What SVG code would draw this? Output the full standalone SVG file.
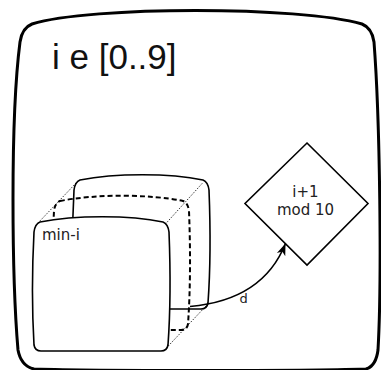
<svg xmlns="http://www.w3.org/2000/svg" width="381" height="370" viewBox="0 0 381 370">
<style>
.face{fill:#fff;stroke:#000;stroke-width:1.6}
.mid{fill:none;stroke:#000;stroke-width:2;stroke-dasharray:5,3}
.dot{fill:none;stroke:#000;stroke-width:0.8;stroke-dasharray:1.5,1.5}
.lbl{font-family:"DejaVu Sans",sans-serif;font-size:15px;fill:#222}
</style>
<defs>
<path id="face" d="M 40,222 C 75,215 130,215 163,222 Q 168,224 169,232 C 170.5,270 170.5,310 168,345 Q 167,351 161,351 L 41,351 Q 35,351 34,345 C 32,310 32,270 34,232 Q 35,224 40,222 Z"/>
<marker id="arr" markerUnits="userSpaceOnUse" markerWidth="14" markerHeight="12" viewBox="-12 -6 14 12" refX="0" refY="0" orient="auto">
<path d="M 0,0 L -12,-4.5 L -8.5,0 L -12,4.5 Z" fill="#000"/>
</marker>
</defs>
<g id="container">
<path d="M 32,24 C 90,6 300,6 362,24 Q 372,28 374,42 C 380,120 382,280 378,350 Q 376,366 366,369 C 300,371 100,371 34,369 Q 21,366 18,350 C 12,280 10,120 20,42 Q 22,28 32,24 Z" fill="#fff" stroke="#000" stroke-width="3"/>
<text x="52" y="69" font-family="'Liberation Sans',Arial,sans-serif" font-size="35" fill="#111">i e [0..9]</text>
</g>
<g id="stack">
<use href="#face" class="face" transform="translate(40,-42)"/>
<use href="#face" class="mid" transform="translate(20,-21)"/>
<path class="dot" d="M 38,223 L 78,181 M 165,224.5 L 203,182.5 M 164,350.5 L 206,306"/>
<use href="#face" class="face"/>
<text class="lbl" x="42" y="240">min-i</text>
</g>
<g id="mod">
<polygon points="307,143 368,203.5 307,265 245,203.5" fill="#fff" stroke="#000" stroke-width="1.6"/>
<text class="lbl" x="305.5" y="196.5" text-anchor="middle">i+1</text>
<text class="lbl" x="305.5" y="215" text-anchor="middle">mod 10</text>
</g>
<g id="connectors">
<path d="M 190,306.5 Q 263,300 285.5,243.5" fill="none" stroke="#000" stroke-width="1.6" marker-end="url(#arr)"/>
<text x="239.5" y="302.5" font-family="'DejaVu Sans',sans-serif" font-size="13" fill="#222">d</text>
</g>
</svg>
